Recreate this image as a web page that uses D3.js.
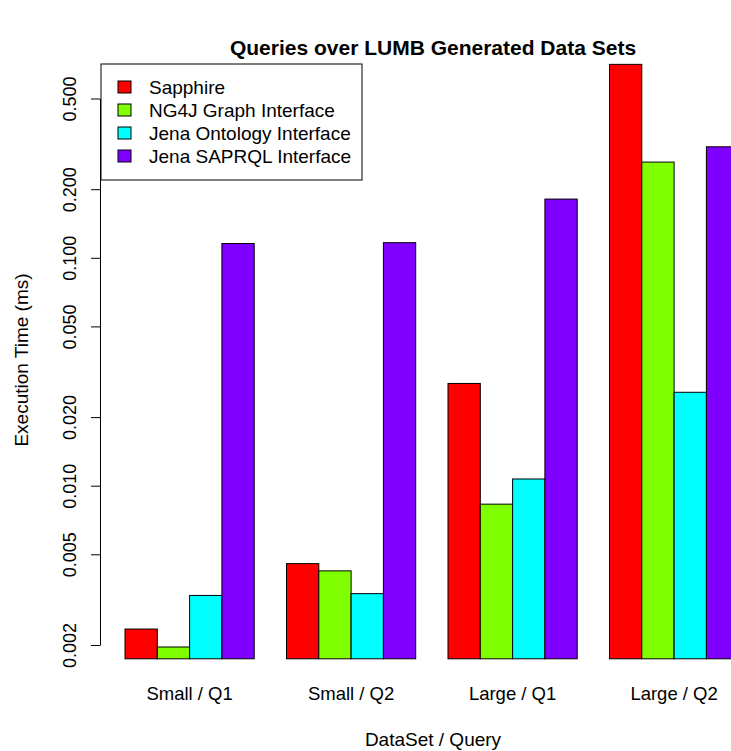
<script src="https://d3js.org/d3.v7.min.js"></script>
<style>
  body { margin: 0; background: #fff; }
  text { font-family: "Liberation Sans", Arial, sans-serif; }
</style>
<div id="chart"></div>

<script>
// data (execution time, ms)
var groups = ["Small / Q1", "Small / Q2", "Large / Q1", "Large / Q2"];
var series = ["Sapphire", "NG4J Graph Interface", "Jena Ontology Interface", "Jena SAPRQL Interface"];
var sapphire = [0.00235, 0.00455, 0.0281, 0.706];
var ng4j     = [0.00196, 0.00423, 0.0083, 0.263];
var jenaOnt  = [0.0033, 0.00336, 0.0107, 0.0257];
var jenaSparql = [0.1155, 0.1165, 0.181, 0.307];
var colors = ["#FF0000", "#80FF00", "#00FFFF", "#8000FF"];
var yTicks = [0.002, 0.005, 0.010, 0.020, 0.050, 0.100, 0.200, 0.500];
var yLow = 0.00174; // lower edge of the plot region

var values = [sapphire, ng4j, jenaOnt, jenaSparql];

var W = 731, H = 751;

var svg = d3.select("#chart")
    .append("svg")
    .attr("width", W)
    .attr("height", H);

// log y scale
var y = d3.scaleLog()
    .domain([0.002, 0.5])
    .range([645, 98.5]);

// x in bar units: each group = 4 bars + 1 bar of space before it
var x = d3.scaleLinear()
    .domain([0, 1])
    .range([92.7, 125]);

var bars = [];
groups.forEach(function (g, gi) {
    series.forEach(function (s, si) {
        bars.push({ g: gi, s: si, v: values[si][gi], u: 1 + gi * 5 + si });
    });
});

var base = y(yLow);

svg.append("g")
    .selectAll("rect")
    .data(bars)
    .enter()
    .append("rect")
    .attr("x", function (d) { return x(d.u); })
    .attr("width", function (d) { return x(d.u + 1) - x(d.u); })
    .attr("y", function (d) { return y(d.v); })
    .attr("height", function (d) { return base - y(d.v); })
    .style("fill", function (d) { return colors[d.s]; })
    .style("stroke", "#000")
    .style("stroke-width", 1);

// y axis
var yAxis = d3.axisLeft(y)
    .tickValues(yTicks)
    .tickFormat(d3.format(".3f"))
    .tickSize(9)
    .tickSizeOuter(0)
    .tickPadding(0);

var ag = svg.append("g")
    .attr("transform", "translate(100,0)")
    .call(yAxis);
ag.select(".domain").attr("stroke", "#000");
ag.selectAll(".tick line").attr("stroke", "#000");
ag.selectAll(".tick text")
    .attr("x", null).attr("dy", null)
    .attr("transform", "translate(-24,0) rotate(-90)")
    .style("text-anchor", "middle")
    .style("font-size", "18px")
    .style("fill", "#000");

// group labels
svg.append("g")
    .selectAll("text")
    .data(groups)
    .enter()
    .append("text")
    .attr("x", function (d, i) { return x(1 + i * 5 + 2); })
    .attr("y", 700)
    .style("text-anchor", "middle")
    .style("font-size", "18.5px")
    .text(function (d) { return d; });

// title
svg.append("text")
    .attr("x", 433)
    .attr("y", 55)
    .style("text-anchor", "middle")
    .style("font-size", "21px")
    .style("font-weight", "bold")
    .text("Queries over LUMB Generated Data Sets");

// axis titles
svg.append("text")
    .attr("x", 433)
    .attr("y", 746)
    .style("text-anchor", "middle")
    .style("font-size", "19px")
    .text("DataSet / Query");

svg.append("text")
    .attr("transform", "translate(28," + 360 + ") rotate(-90)")
    .style("text-anchor", "middle")
    .style("font-size", "19px")
    .text("Execution Time (ms)");

// legend
var lg = svg.append("g").attr("transform", "translate(101,64)");
lg.append("rect")
    .attr("width", 261).attr("height", 116)
    .style("fill", "#fff").style("stroke", "#000");
var items = lg.selectAll("g.item")
    .data(series)
    .enter()
    .append("g")
    .attr("transform", function (d, i) { return "translate(0," + (23 + i * 23) + ")"; });
items.append("rect")
    .attr("x", 17).attr("y", -6)
    .attr("width", 13).attr("height", 12)
    .style("fill", function (d, i) { return colors[i]; })
    .style("stroke", "#000");
items.append("text")
    .attr("x", 48).attr("y", 7)
    .style("font-size", "19px")
    .text(function (d) { return d; });
</script>
